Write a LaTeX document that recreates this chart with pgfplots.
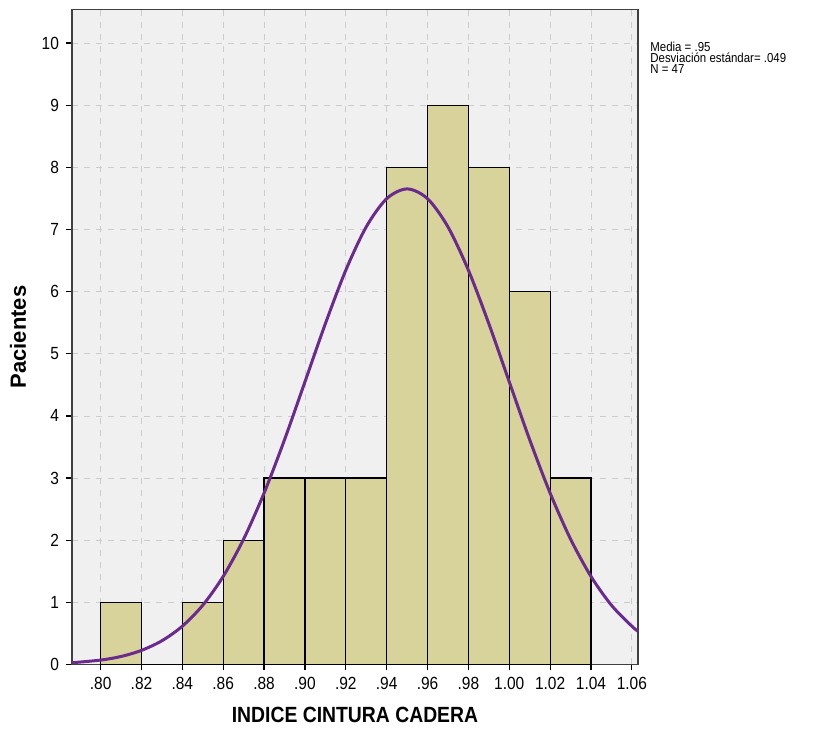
\documentclass[border=0pt]{standalone}
\usepackage{pgfplots}
\pgfplotsset{compat=1.18}
\usepackage{fontspec}
\setmainfont{Liberation Sans}
\definecolor{barfill}{HTML}{D7D39B}
\definecolor{curve}{HTML}{6A2A8E}
\definecolor{plotbg}{HTML}{F0F0F0}
\newcommand{\sq}[1]{\scalebox{0.88}[1]{#1}}

\begin{document}
\begin{tikzpicture}
\begin{axis}[
  name=ax,
  scale only axis,
  width=283pt, height=327.5pt,
  xmin=0.786, xmax=1.063,
  ymin=0, ymax=10.54,
  axis background/.style={fill=plotbg},
  axis line style={black!75, line width=0.7pt},
  xtick={0.80,0.82,0.84,0.86,0.88,0.90,0.92,0.94,0.96,0.98,1.00,1.02,1.04,1.06},
  xticklabels={\sq{.80},\sq{.82},\sq{.84},\sq{.86},\sq{.88},\sq{.90},\sq{.92},\sq{.94},\sq{.96},\sq{.98},\sq{1.00},\sq{1.02},\sq{1.04},\sq{1.06}},
  ytick={0,1,...,10},
  yticklabels={\sq{0},\sq{1},\sq{2},\sq{3},\sq{4},\sq{5},\sq{6},\sq{7},\sq{8},\sq{9},\sq{10}},
  tick align=outside,
  major tick length=3pt,
  tick style={black, line width=0.6pt},
  xtick pos=bottom, ytick pos=left,
  ticklabel style={font=\fontsize{8.8}{10}\selectfont},
  grid=major,
  major grid style={dashed, black!20, line width=0.4pt},
  xlabel={\sq{INDICE CINTURA CADERA}},
  ylabel={Pacientes},
  every axis x label/.style={at={(rel axis cs:0.5,0)}, yshift=-25pt, anchor=center, font=\bfseries\fontsize{11}{12}\selectfont},
  every axis y label/.style={at={(rel axis cs:0,0.5)}, xshift=-27pt, rotate=90, anchor=center, font=\bfseries\fontsize{11}{12}\selectfont},
]
\addplot[ybar interval, fill=barfill, draw=black, line width=0.6pt] coordinates {
  (0.80,1) (0.82,0) (0.84,1) (0.86,2) (0.88,3) (0.90,3) (0.92,3)
  (0.94,8) (0.96,9) (0.98,8) (1.00,6) (1.02,3) (1.04,3)
};
\addplot[curve, line width=1.5pt, smooth] coordinates {
  (0.786,0.028) (0.80,0.071) (0.81,0.129) (0.82,0.227) (0.83,0.382)
  (0.84,0.616) (0.85,0.954) (0.86,1.417) (0.87,2.018) (0.88,2.758)
  (0.89,3.616) (0.90,4.548) (0.91,5.484) (0.92,6.345) (0.93,7.042)
  (0.94,7.496) (0.95,7.653) (0.96,7.496) (0.97,7.042) (0.98,6.345)
  (0.99,5.484) (1.00,4.548) (1.01,3.616) (1.02,2.758) (1.03,2.018)
  (1.04,1.417) (1.05,0.954) (1.06,0.616) (1.063,0.536)
};
\end{axis}
\node[anchor=north west, align=left, inner sep=0pt, font=\fontsize{6.5}{5.6}\selectfont]
  at ([xshift=6pt, yshift=-16pt]ax.north east)
  {\sq{Media = .95}\\ \sq{Desviación estándar= .049}\\ \sq{N = 47}};
\pgfresetboundingbox
\useasboundingbox ([xshift=-36pt, yshift=-32.5pt]ax.south west) rectangle ([xshift=97.5pt, yshift=4.75pt]ax.north east);
\end{tikzpicture}
\end{document}
